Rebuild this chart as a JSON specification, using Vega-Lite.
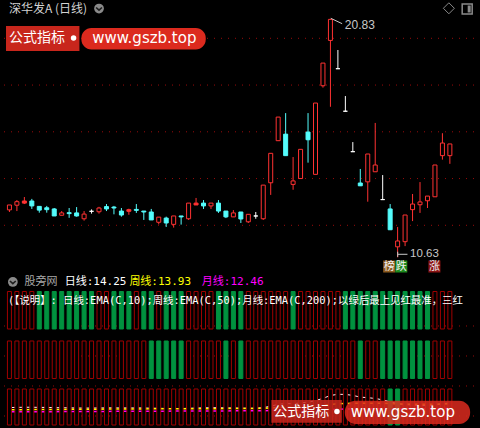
{
"$schema": "https://vega.github.io/schema/vega-lite/v6.json",
"background": "#000000",
"padding": 0,
"spacing": 0,
"config": {"view": {"stroke": null}, "axis": {"domain": false, "grid": false, "labels": false, "ticks": false}},
"resolve": {"scale": {"x": "independent", "y": "independent", "fill": "independent", "stroke": "independent"}},
"datasets": {
"grid1": [{"p": 12}, {"p": 14}, {"p": 16}, {"p": 18}, {"p": 20}],
"grid2": [{"u": 0}, {"u": 10}, {"u": 20}, {"u": 30}],
"badges": [{"t": "榜", "i": 50.87}, {"t": "跌", "i": 52.49}, {"t": "涨", "i": 56.93}],
"candles": [
{"i":0,"o":12.66,"h":12.87,"l":12.57,"c":12.87,"k":"up"},
{"i":1,"o":12.86,"h":13.08,"l":12.61,"c":13.01,"k":"up"},
{"i":2,"o":12.95,"h":13.21,"l":12.91,"c":13.04,"k":"upf"},
{"i":3,"o":13.04,"h":13.13,"l":12.70,"c":12.83,"k":"down"},
{"i":4,"o":12.81,"h":12.81,"l":12.54,"c":12.65,"k":"down"},
{"i":5,"o":12.75,"h":12.83,"l":12.54,"c":12.67,"k":"down"},
{"i":6,"o":12.70,"h":12.74,"l":12.40,"c":12.40,"k":"down"},
{"i":7,"o":12.43,"h":12.61,"l":12.43,"c":12.53,"k":"up"},
{"i":8,"o":12.54,"h":12.74,"l":12.32,"c":12.50,"k":"down"},
{"i":9,"o":12.53,"h":12.78,"l":12.37,"c":12.40,"k":"down"},
{"i":10,"o":12.28,"h":12.61,"l":12.20,"c":12.48,"k":"up"},
{"i":11,"o":12.60,"h":12.68,"l":12.50,"c":12.60,"k":"flat"},
{"i":12,"o":12.58,"h":12.79,"l":12.50,"c":12.74,"k":"up"},
{"i":13,"o":12.80,"h":12.91,"l":12.61,"c":12.70,"k":"down"},
{"i":14,"o":12.78,"h":12.83,"l":12.47,"c":12.74,"k":"down"},
{"i":15,"o":12.61,"h":12.74,"l":12.37,"c":12.44,"k":"down"},
{"i":16,"o":12.60,"h":12.71,"l":12.45,"c":12.67,"k":"upf"},
{"i":17,"o":12.68,"h":12.91,"l":12.53,"c":12.64,"k":"down"},
{"i":18,"o":12.61,"h":12.61,"l":12.23,"c":12.57,"k":"down"},
{"i":19,"o":12.57,"h":12.70,"l":12.23,"c":12.23,"k":"down"},
{"i":20,"o":12.13,"h":12.35,"l":12.04,"c":12.35,"k":"up"},
{"i":21,"o":12.31,"h":12.37,"l":11.93,"c":12.10,"k":"down"},
{"i":22,"o":12.04,"h":12.40,"l":11.90,"c":12.40,"k":"up"},
{"i":23,"o":12.40,"h":12.40,"l":12.03,"c":12.36,"k":"down"},
{"i":24,"o":12.28,"h":12.95,"l":12.23,"c":12.95,"k":"up"},
{"i":25,"o":12.87,"h":13.17,"l":12.87,"c":12.95,"k":"upf"},
{"i":26,"o":12.95,"h":13.08,"l":12.70,"c":12.83,"k":"down"},
{"i":27,"o":12.83,"h":12.95,"l":12.70,"c":12.95,"k":"up"},
{"i":28,"o":12.95,"h":13.08,"l":12.53,"c":12.61,"k":"down"},
{"i":29,"o":12.61,"h":12.61,"l":12.31,"c":12.36,"k":"down"},
{"i":30,"o":12.36,"h":12.65,"l":12.36,"c":12.53,"k":"up"},
{"i":31,"o":12.57,"h":12.57,"l":12.10,"c":12.27,"k":"down"},
{"i":32,"o":12.15,"h":12.47,"l":12.10,"c":12.47,"k":"up"},
{"i":33,"o":12.40,"h":12.57,"l":12.28,"c":12.40,"k":"flat"},
{"i":34,"o":12.28,"h":13.72,"l":12.23,"c":13.72,"k":"up"},
{"i":35,"o":13.82,"h":15.08,"l":13.30,"c":15.08,"k":"up"},
{"i":36,"o":15.62,"h":16.63,"l":15.62,"c":16.63,"k":"up"},
{"i":37,"o":15.90,"h":16.80,"l":14.98,"c":14.98,"k":"down"},
{"i":38,"o":13.75,"h":14.92,"l":13.52,"c":13.90,"k":"up"},
{"i":39,"o":14.00,"h":15.25,"l":14.00,"c":15.25,"k":"up"},
{"i":40,"o":15.99,"h":16.80,"l":14.68,"c":15.66,"k":"down"},
{"i":41,"o":14.18,"h":17.23,"l":14.18,"c":17.23,"k":"up"},
{"i":42,"o":17.97,"h":18.94,"l":17.89,"c":18.94,"k":"up"},
{"i":43,"o":19.91,"h":20.83,"l":17.07,"c":20.81,"k":"up"},
{"i":44,"o":18.70,"h":19.50,"l":18.70,"c":18.70,"k":"flat"},
{"i":45,"o":16.88,"h":17.53,"l":16.88,"c":16.88,"k":"flat"},
{"i":46,"o":15.15,"h":15.56,"l":15.15,"c":15.15,"k":"flat"},
{"i":47,"o":13.81,"h":14.41,"l":13.69,"c":13.69,"k":"down"},
{"i":48,"o":13.86,"h":15.05,"l":13.01,"c":15.05,"k":"up"},
{"i":49,"o":14.29,"h":16.38,"l":14.29,"c":14.58,"k":"up"},
{"i":50,"o":13.10,"h":14.15,"l":13.10,"c":13.10,"k":"flat"},
{"i":51,"o":12.70,"h":12.91,"l":11.81,"c":11.81,"k":"down"},
{"i":52,"o":11.08,"h":11.93,"l":10.63,"c":11.33,"k":"up"},
{"i":53,"o":11.30,"h":12.44,"l":11.11,"c":12.44,"k":"up"},
{"i":54,"o":12.67,"h":13.34,"l":12.18,"c":12.91,"k":"up"},
{"i":55,"o":12.88,"h":13.85,"l":12.53,"c":13.00,"k":"up"},
{"i":56,"o":13.05,"h":13.25,"l":12.74,"c":13.25,"k":"up"},
{"i":57,"o":13.22,"h":14.58,"l":13.22,"c":14.58,"k":"up"},
{"i":58,"o":14.98,"h":15.94,"l":14.81,"c":15.52,"k":"up"},
{"i":59,"o":14.98,"h":15.48,"l":14.63,"c":15.48,"k":"up"}
],
"sig": [
{"i":0,"s1":"r","s2":"r","s3":"r","w":12.75,"yl":12.03,"m":11.36},
{"i":1,"s1":"r","s2":"r","s3":"r","w":12.80,"yl":12.05,"m":11.37},
{"i":2,"s1":"r","s2":"r","s3":"r","w":12.84,"yl":12.07,"m":11.38},
{"i":3,"s1":"r","s2":"r","s3":"r","w":12.84,"yl":12.09,"m":11.40},
{"i":4,"s1":"g","s2":"r","s3":"r","w":12.81,"yl":12.09,"m":11.41},
{"i":5,"s1":"g","s2":"r","s3":"r","w":12.78,"yl":12.11,"m":11.42},
{"i":6,"s1":"g","s2":"r","s3":"r","w":12.71,"yl":12.13,"m":11.43},
{"i":7,"s1":"g","s2":"r","s3":"r","w":12.68,"yl":12.15,"m":11.44},
{"i":8,"s1":"g","s2":"r","s3":"r","w":12.65,"yl":12.16,"m":11.46},
{"i":9,"s1":"g","s2":"r","s3":"r","w":12.60,"yl":12.18,"m":11.47},
{"i":10,"s1":"g","s2":"r","s3":"r","w":12.58,"yl":12.20,"m":11.48},
{"i":11,"s1":"g","s2":"r","s3":"r","w":12.58,"yl":12.21,"m":11.49},
{"i":12,"s1":"r","s2":"r","s3":"r","w":12.61,"yl":12.23,"m":11.50},
{"i":13,"s1":"r","s2":"r","s3":"r","w":12.63,"yl":12.24,"m":11.51},
{"i":14,"s1":"g","s2":"r","s3":"r","w":12.65,"yl":12.26,"m":11.52},
{"i":15,"s1":"g","s2":"r","s3":"r","w":12.61,"yl":12.27,"m":11.53},
{"i":16,"s1":"g","s2":"r","s3":"r","w":12.62,"yl":12.28,"m":11.54},
{"i":17,"s1":"r","s2":"r","s3":"r","w":12.62,"yl":12.30,"m":11.55},
{"i":18,"s1":"g","s2":"r","s3":"r","w":12.61,"yl":12.31,"m":11.56},
{"i":19,"s1":"g","s2":"g","s3":"r","w":12.54,"yl":12.32,"m":11.57},
{"i":20,"s1":"r","s2":"g","s3":"r","w":12.51,"yl":12.33,"m":11.58},
{"i":21,"s1":"g","s2":"g","s3":"r","w":12.44,"yl":12.34,"m":11.59},
{"i":22,"s1":"g","s2":"g","s3":"r","w":12.43,"yl":12.35,"m":11.60},
{"i":23,"s1":"g","s2":"g","s3":"r","w":12.42,"yl":12.36,"m":11.61},
{"i":24,"s1":"r","s2":"r","s3":"r","w":12.51,"yl":12.37,"m":11.62},
{"i":25,"s1":"r","s2":"r","s3":"r","w":12.59,"yl":12.38,"m":11.63},
{"i":26,"s1":"r","s2":"r","s3":"r","w":12.64,"yl":12.39,"m":11.64},
{"i":27,"s1":"r","s2":"r","s3":"r","w":12.69,"yl":12.40,"m":11.65},
{"i":28,"s1":"g","s2":"r","s3":"r","w":12.68,"yl":12.40,"m":11.66},
{"i":29,"s1":"g","s2":"g","s3":"r","w":12.62,"yl":12.41,"m":11.67},
{"i":30,"s1":"g","s2":"r","s3":"r","w":12.60,"yl":12.42,"m":11.68},
{"i":31,"s1":"g","s2":"g","s3":"r","w":12.54,"yl":12.43,"m":11.69},
{"i":32,"s1":"r","s2":"r","s3":"r","w":12.53,"yl":12.43,"m":11.70},
{"i":33,"s1":"r","s2":"r","s3":"r","w":12.51,"yl":12.45,"m":11.71},
{"i":34,"s1":"r","s2":"r","s3":"r","w":12.73,"yl":12.51,"m":11.73},
{"i":35,"s1":"r","s2":"r","s3":"r","w":13.16,"yl":12.61,"m":11.76},
{"i":36,"s1":"r","s2":"r","s3":"r","w":13.79,"yl":12.76,"m":11.81},
{"i":37,"s1":"r","s2":"r","s3":"r","w":14.00,"yl":12.85,"m":11.84},
{"i":38,"s1":"g","s2":"r","s3":"r","w":13.99,"yl":12.89,"m":11.86},
{"i":39,"s1":"r","s2":"r","s3":"r","w":14.22,"yl":12.98,"m":11.90},
{"i":40,"s1":"r","s2":"r","s3":"r","w":14.48,"yl":13.09,"m":11.94},
{"i":41,"s1":"r","s2":"r","s3":"r","w":14.98,"yl":13.25,"m":11.99},
{"i":42,"s1":"r","s2":"r","s3":"r","w":15.70,"yl":13.47,"m":12.06},
{"i":43,"s1":"r","s2":"r","s3":"r","w":16.63,"yl":13.76,"m":12.15},
{"i":44,"s1":"r","s2":"r","s3":"r","w":17.00,"yl":13.96,"m":12.21},
{"i":45,"s1":"g","s2":"r","s3":"r","w":16.98,"yl":14.07,"m":12.26},
{"i":46,"s1":"g","s2":"r","s3":"r","w":16.65,"yl":14.11,"m":12.29},
{"i":47,"s1":"g","s2":"g","s3":"r","w":16.11,"yl":14.10,"m":12.30},
{"i":48,"s1":"g","s2":"r","s3":"r","w":15.92,"yl":14.13,"m":12.33},
{"i":49,"s1":"g","s2":"r","s3":"r","w":15.67,"yl":14.15,"m":12.35},
{"i":50,"s1":"g","s2":"g","s3":"r","w":15.21,"yl":14.11,"m":12.36},
{"i":51,"s1":"g","s2":"g","s3":"g","w":14.59,"yl":14.02,"m":12.35},
{"i":52,"s1":"g","s2":"g","s3":"g","w":14.00,"yl":13.92,"m":12.34},
{"i":53,"s1":"g","s2":"g","s3":"r","w":13.71,"yl":13.86,"m":12.34},
{"i":54,"s1":"g","s2":"g","s3":"r","w":13.57,"yl":13.82,"m":12.35},
{"i":55,"s1":"g","s2":"g","s3":"r","w":13.46,"yl":13.79,"m":12.36},
{"i":56,"s1":"g","s2":"g","s3":"r","w":13.43,"yl":13.77,"m":12.37},
{"i":57,"s1":"r","s2":"r","s3":"r","w":13.64,"yl":13.80,"m":12.39},
{"i":58,"s1":"r","s2":"r","s3":"r","w":13.98,"yl":13.87,"m":12.42},
{"i":59,"s1":"r","s2":"r","s3":"r","w":14.25,"yl":13.93,"m":12.45}
]
},
"vconcat": [
{
"width": 480, "height": 273,
"layer": [
{"data": {"name": "grid1"}, "mark": {"type": "rule", "stroke": "#9a0a0a", "strokeDash": [1, 6]},
 "encoding": {"y": {"field": "p", "type": "quantitative", "scale": {"domain": [9.917, 21.596], "nice": false, "zero": false}, "axis": null}}},
{"data": {"values": [{}]}, "mark": {"type": "rect", "fill": "#c8261c"},
 "encoding": {"x": {"datum": -0.46, "type": "quantitative", "scale": {"domain": [-0.46, 62.5], "nice": false, "zero": false}, "axis": null}, "x2": {"datum": 9.378},
  "y": {"datum": 20.526, "type": "quantitative", "scale": {"domain": [9.917, 21.596], "nice": false, "zero": false}, "axis": null}, "y2": {"datum": 19.457}}},
{"data": {"values": [{}]}, "mark": {"type": "rect", "fill": "#dc2a1e", "cornerRadius": 10},
 "encoding": {"x": {"datum": 9.64, "type": "quantitative", "axis": null}, "x2": {"datum": 26.298},
  "y": {"datum": 20.441, "type": "quantitative", "axis": null}, "y2": {"datum": 19.521}}},
{"data": {"values": [{}]}, "mark": {"type": "point", "shape": "circle", "filled": true, "fill": "#ffffff", "size": 30, "opacity": 1},
 "encoding": {"x": {"datum": 8.59, "type": "quantitative", "axis": null}, "y": {"datum": 20.013, "type": "quantitative", "axis": null}}},
{"data": {"values": [{}]}, "mark": {"type": "text", "text": "公式指标", "align": "left", "baseline": "middle", "font": "Noto Sans CJK SC", "fontSize": 14, "fill": "#ffffff"},
 "encoding": {"x": {"datum": -0.066, "type": "quantitative", "axis": null}, "y": {"datum": 19.992, "type": "quantitative", "axis": null}}},
{"data": {"values": [{}]}, "mark": {"type": "text", "text": "www.gszb.top", "align": "left", "baseline": "middle", "font": "DejaVu Sans", "fontSize": 15, "fill": "#ffffff"},
 "encoding": {"x": {"datum": 11.083, "type": "quantitative", "axis": null}, "y": {"datum": 19.992, "type": "quantitative", "axis": null}}},
{"data": {"name": "candles"}, "mark": {"type": "rule", "strokeWidth": 1},
 "encoding": {"x": {"field": "i", "type": "quantitative", "scale": {"domain": [-0.46, 62.5], "nice": false, "zero": false},
   "axis": {"domain": true, "domainColor": "#b40000", "domainWidth": 1, "labels": false, "ticks": false, "grid": false, "title": null}},
  "y": {"field": "l", "type": "quantitative", "scale": {"domain": [9.917, 21.596], "nice": false, "zero": false}, "axis": null}, "y2": {"field": "h"},
  "stroke": {"field": "k", "type": "nominal", "scale": {"domain": ["up", "upf", "down", "flat"], "range": ["#ff3232", "#ff3232", "#54fcfc", "#ffffff"]}, "legend": null}}},
{"data": {"name": "candles"}, "mark": {"type": "bar", "size": 4, "strokeWidth": 1, "orient": "vertical"},
 "encoding": {"x": {"field": "i", "type": "quantitative", "axis": null},
  "y": {"field": "o", "type": "quantitative", "axis": null}, "y2": {"field": "c"},
  "fill": {"field": "k", "type": "nominal", "scale": {"domain": ["up", "upf", "down", "flat"], "range": ["#000000", "#ff3232", "#54fcfc", "#ffffff"]}, "legend": null},
  "stroke": {"field": "k", "type": "nominal", "legend": null}}},
{"data": {"values": [{}]}, "mark": {"type": "text", "text": "深华发A (日线)", "align": "left", "baseline": "middle", "font": "Noto Sans CJK SC", "fontSize": 12, "fill": "#d2d2d2"},
 "encoding": {"x": {"datum": -0.066, "type": "quantitative", "axis": null}, "y": {"datum": 21.254, "type": "quantitative", "axis": null}}},
{"data": {"values": [{}]}, "mark": {"type": "point", "shape": "circle", "filled": true, "fill": "#8a8a8a", "size": 95, "opacity": 1},
 "encoding": {"x": {"datum": 12.0, "type": "quantitative", "axis": null}, "y": {"datum": 21.275, "type": "quantitative", "axis": null}}},
{"data": {"values": [{}]}, "mark": {"type": "point", "shape": "M-0.6,-0.2L0,0.35L0.6,-0.2", "filled": false, "stroke": "#1e1e1e", "strokeWidth": 1.6, "size": 95, "opacity": 1},
 "encoding": {"x": {"datum": 12.0, "type": "quantitative", "axis": null}, "y": {"datum": 21.275, "type": "quantitative", "axis": null}}},
{"data": {"values": [{}]}, "mark": {"type": "point", "shape": "diamond", "filled": false, "stroke": "#8a8a8a", "strokeWidth": 1, "size": 121, "opacity": 1},
 "encoding": {"x": {"datum": 58.866, "type": "quantitative", "axis": null}, "y": {"datum": 21.284, "type": "quantitative", "axis": null}}},
{"data": {"values": [{}]}, "mark": {"type": "point", "shape": "square", "filled": false, "stroke": "#8a8a8a", "strokeWidth": 1.5, "size": 100, "opacity": 1},
 "encoding": {"x": {"datum": 61.319, "type": "quantitative", "axis": null}, "y": {"datum": 21.254, "type": "quantitative", "axis": null}}},
{"data": {"values": [{}]}, "mark": {"type": "point", "shape": "M0.1,-0.7L0.7,-0.7L0.7,0.7L0.1,0.7Z", "filled": true, "fill": "#8a8a8a", "size": 100, "opacity": 1},
 "encoding": {"x": {"datum": 61.319, "type": "quantitative", "axis": null}, "y": {"datum": 21.254, "type": "quantitative", "axis": null}}},
{"data": {"values": [{}]}, "mark": {"type": "rule", "stroke": "#c8c8c8", "strokeWidth": 1},
 "encoding": {"x": {"datum": 43.05, "type": "quantitative", "axis": null}, "x2": {"datum": 44.57}, "y": {"datum": 20.856, "type": "quantitative", "axis": null}, "y2": {"datum": 20.625}}},
{"data": {"values": [{}]}, "mark": {"type": "text", "text": "20.83", "align": "left", "baseline": "middle", "font": "Liberation Sans", "fontSize": 12, "fill": "#c8c8c8"},
 "encoding": {"x": {"datum": 44.93, "type": "quantitative", "axis": null}, "y": {"datum": 20.582, "type": "quantitative", "axis": null}}},
{"data": {"values": [{}]}, "mark": {"type": "rule", "stroke": "#c8c8c8", "strokeWidth": 1},
 "encoding": {"x": {"datum": 52.01, "type": "quantitative", "axis": null}, "x2": {"datum": 53.32}, "y": {"datum": 10.76, "type": "quantitative", "axis": null}}},
{"data": {"values": [{}]}, "mark": {"type": "rule", "stroke": "#c8c8c8", "strokeWidth": 1},
 "encoding": {"x": {"datum": 52.01, "type": "quantitative", "axis": null}, "y": {"datum": 10.87, "type": "quantitative", "axis": null}, "y2": {"datum": 10.65}}},
{"data": {"values": [{}]}, "mark": {"type": "text", "text": "10.63", "align": "left", "baseline": "middle", "font": "Liberation Sans", "fontSize": 11.5, "fill": "#c8c8c8"},
 "encoding": {"x": {"datum": 53.67, "type": "quantitative", "axis": null}, "y": {"datum": 10.79, "type": "quantitative", "axis": null}}},
{"data": {"values": [{}]}, "mark": {"type": "point", "shape": "square", "filled": true, "fill": "#8c5a1e", "size": 144, "opacity": 1},
 "encoding": {"x": {"datum": 50.87, "type": "quantitative", "axis": null}, "y": {"datum": 10.237, "type": "quantitative", "axis": null}}},
{"data": {"values": [{}]}, "mark": {"type": "point", "shape": "square", "filled": true, "fill": "#1e8a1e", "size": 144, "opacity": 1},
 "encoding": {"x": {"datum": 52.49, "type": "quantitative", "axis": null}, "y": {"datum": 10.237, "type": "quantitative", "axis": null}}},
{"data": {"values": [{}]}, "mark": {"type": "point", "shape": "square", "filled": true, "fill": "#8c1414", "size": 144, "opacity": 1},
 "encoding": {"x": {"datum": 56.93, "type": "quantitative", "axis": null}, "y": {"datum": 10.237, "type": "quantitative", "axis": null}}},
{"data": {"name": "badges"}, "mark": {"type": "text", "align": "center", "baseline": "middle", "font": "Noto Sans CJK SC", "fontSize": 11, "fill": "#f0f0f0"},
 "encoding": {"x": {"field": "i", "type": "quantitative", "axis": null}, "y": {"datum": 10.237, "type": "quantitative", "axis": null}, "text": {"field": "t"}}}
]
},
{
"width": 480, "height": 154,
"resolve": {"scale": {"y": "independent"}},
"layer": [
{"data": {"name": "sig"}, "layer": [
 {"mark": {"type": "line", "stroke": "#ffffff", "strokeWidth": 1},
  "encoding": {"x": {"field": "i", "type": "quantitative", "scale": {"domain": [-0.46, 62.5], "nice": false, "zero": false}, "axis": null},
   "y": {"field": "w", "type": "quantitative", "scale": {"domain": [6.17, 55.69], "nice": false, "zero": false}, "axis": null}}},
 {"mark": {"type": "line", "stroke": "#ffff00", "strokeWidth": 1.5},
  "encoding": {"x": {"field": "i", "type": "quantitative", "axis": null},
   "y": {"field": "yl", "type": "quantitative", "axis": null}}},
 {"mark": {"type": "line", "stroke": "#ff00ff", "strokeWidth": 1.5},
  "encoding": {"x": {"field": "i", "type": "quantitative", "axis": null},
   "y": {"field": "m", "type": "quantitative", "axis": null}}}
]},
{"layer": [
 {"data": {"name": "grid2"}, "mark": {"type": "rule", "stroke": "#9a0a0a", "strokeDash": [1, 6]},
  "encoding": {"y": {"field": "u", "type": "quantitative", "scale": {"domain": [-4, 47.333], "nice": false, "zero": false}, "axis": null}}},
 {"data": {"name": "sig"}, "mark": {"type": "bar", "size": 4, "strokeWidth": 1, "orient": "vertical"},
  "encoding": {"x": {"field": "i", "type": "quantitative", "scale": {"domain": [-0.46, 62.5], "nice": false, "zero": false}, "axis": null},
   "y": {"datum": 29, "type": "quantitative", "scale": {"domain": [-4, 47.333], "nice": false, "zero": false}, "axis": null}, "y2": {"datum": 41.5},
   "fill": {"field": "s1", "type": "nominal", "scale": {"domain": ["r", "g"], "range": ["#000000", "#00923f"]}, "legend": null},
   "stroke": {"field": "s1", "type": "nominal", "scale": {"domain": ["r", "g"], "range": ["#a00000", "#00923f"]}, "legend": null}}},
 {"data": {"name": "sig"}, "mark": {"type": "bar", "size": 4, "strokeWidth": 1, "orient": "vertical"},
  "encoding": {"x": {"field": "i", "type": "quantitative", "axis": null},
   "y": {"datum": 12.5, "type": "quantitative", "axis": null}, "y2": {"datum": 25},
   "fill": {"field": "s2", "type": "nominal", "scale": {"domain": ["r", "g"], "range": ["#000000", "#00923f"]}, "legend": null},
   "stroke": {"field": "s2", "type": "nominal", "scale": {"domain": ["r", "g"], "range": ["#a00000", "#00923f"]}, "legend": null}}},
 {"data": {"name": "sig"}, "mark": {"type": "bar", "size": 4, "strokeWidth": 1, "orient": "vertical"},
  "encoding": {"x": {"field": "i", "type": "quantitative", "axis": null},
   "y": {"datum": -3, "type": "quantitative", "axis": null}, "y2": {"datum": 9},
   "fill": {"field": "s3", "type": "nominal", "scale": {"domain": ["r", "g"], "range": ["#000000", "#00923f"]}, "legend": null},
   "stroke": {"field": "s3", "type": "nominal", "scale": {"domain": ["r", "g"], "range": ["#a00000", "#00923f"]}, "legend": null}}},
 {"data": {"values": [{}]}, "mark": {"type": "point", "shape": "circle", "filled": true, "fill": "#8a8a8a", "size": 95, "opacity": 1},
  "encoding": {"x": {"datum": 0.458, "type": "quantitative", "axis": null}, "y": {"datum": 44.67, "type": "quantitative", "axis": null}}},
 {"data": {"values": [{}]}, "mark": {"type": "point", "shape": "M-0.6,-0.2L0,0.35L0.6,-0.2", "filled": false, "stroke": "#1e1e1e", "strokeWidth": 1.6, "size": 95, "opacity": 1},
  "encoding": {"x": {"datum": 0.458, "type": "quantitative", "axis": null}, "y": {"datum": 44.67, "type": "quantitative", "axis": null}}},
 {"data": {"values": [{}]}, "mark": {"type": "text", "text": "股旁网", "align": "left", "baseline": "middle", "font": "DejaVu Sans Mono, Noto Sans CJK SC", "fontSize": 11, "fill": "#a8a8a8"},
  "encoding": {"x": {"datum": 2.032, "type": "quantitative", "axis": null}, "y": {"datum": 44.67, "type": "quantitative", "axis": null}}},
 {"data": {"values": [{}]}, "mark": {"type": "text", "text": "日线:14.25", "align": "left", "baseline": "middle", "font": "DejaVu Sans Mono, Noto Sans CJK SC", "fontSize": 11, "fill": "#ffffff"},
  "encoding": {"x": {"datum": 7.41, "type": "quantitative", "axis": null}, "y": {"datum": 44.67, "type": "quantitative", "axis": null}}},
 {"data": {"values": [{}]}, "mark": {"type": "text", "text": "周线:13.93", "align": "left", "baseline": "middle", "font": "DejaVu Sans Mono, Noto Sans CJK SC", "fontSize": 11, "fill": "#ffff00"},
  "encoding": {"x": {"datum": 16.067, "type": "quantitative", "axis": null}, "y": {"datum": 44.67, "type": "quantitative", "axis": null}}},
 {"data": {"values": [{}]}, "mark": {"type": "text", "text": "月线:12.46", "align": "left", "baseline": "middle", "font": "DejaVu Sans Mono, Noto Sans CJK SC", "fontSize": 11, "fill": "#ff00ff"},
  "encoding": {"x": {"datum": 25.773, "type": "quantitative", "axis": null}, "y": {"datum": 44.67, "type": "quantitative", "axis": null}}},
 {"data": {"values": [{}]}, "mark": {"type": "text", "text": "(【说明】: 日线:EMA(C,10);周线:EMA(C,50);月线:EMA(C,200);以绿后最上见红最准，三红", "align": "left", "baseline": "middle", "font": "DejaVu Sans Mono, Noto Sans CJK SC", "fontSize": 10.4, "fill": "#ffffff"},
  "encoding": {"x": {"datum": -0.198, "type": "quantitative", "axis": null}, "y": {"datum": 38.33, "type": "quantitative", "axis": null}}},
 {"data": {"values": [{}]}, "mark": {"type": "rect", "fill": "#c8261c", "opacity": 0.85},
  "encoding": {"x": {"datum": 35.086, "type": "quantitative", "axis": null}, "x2": {"datum": 44.53},
   "y": {"datum": 5.33, "type": "quantitative", "axis": null}, "y2": {"datum": -2.23}}},
 {"data": {"values": [{}]}, "mark": {"type": "rect", "fill": "#dc2a1e", "cornerRadius": 11, "opacity": 0.85},
  "encoding": {"x": {"datum": 44.924, "type": "quantitative", "axis": null}, "x2": {"datum": 61.713},
   "y": {"datum": 5.1, "type": "quantitative", "axis": null}, "y2": {"datum": -2.67}}},
 {"data": {"values": [{}]}, "mark": {"type": "point", "shape": "circle", "filled": true, "fill": "#ffffff", "size": 30, "opacity": 1},
  "encoding": {"x": {"datum": 43.875, "type": "quantitative", "axis": null}, "y": {"datum": 1.5, "type": "quantitative", "axis": null}}},
 {"data": {"values": [{}]}, "mark": {"type": "text", "text": "公式指标", "align": "left", "baseline": "middle", "font": "Noto Sans CJK SC", "fontSize": 14, "fill": "#ffffff"},
  "encoding": {"x": {"datum": 35.349, "type": "quantitative", "axis": null}, "y": {"datum": 1.33, "type": "quantitative", "axis": null}}},
 {"data": {"values": [{}]}, "mark": {"type": "text", "text": "www.gszb.top", "align": "left", "baseline": "middle", "font": "DejaVu Sans", "fontSize": 15, "fill": "#ffffff"},
  "encoding": {"x": {"datum": 45.711, "type": "quantitative", "axis": null}, "y": {"datum": 1.33, "type": "quantitative", "axis": null}}}
]}
]
}
]
}
